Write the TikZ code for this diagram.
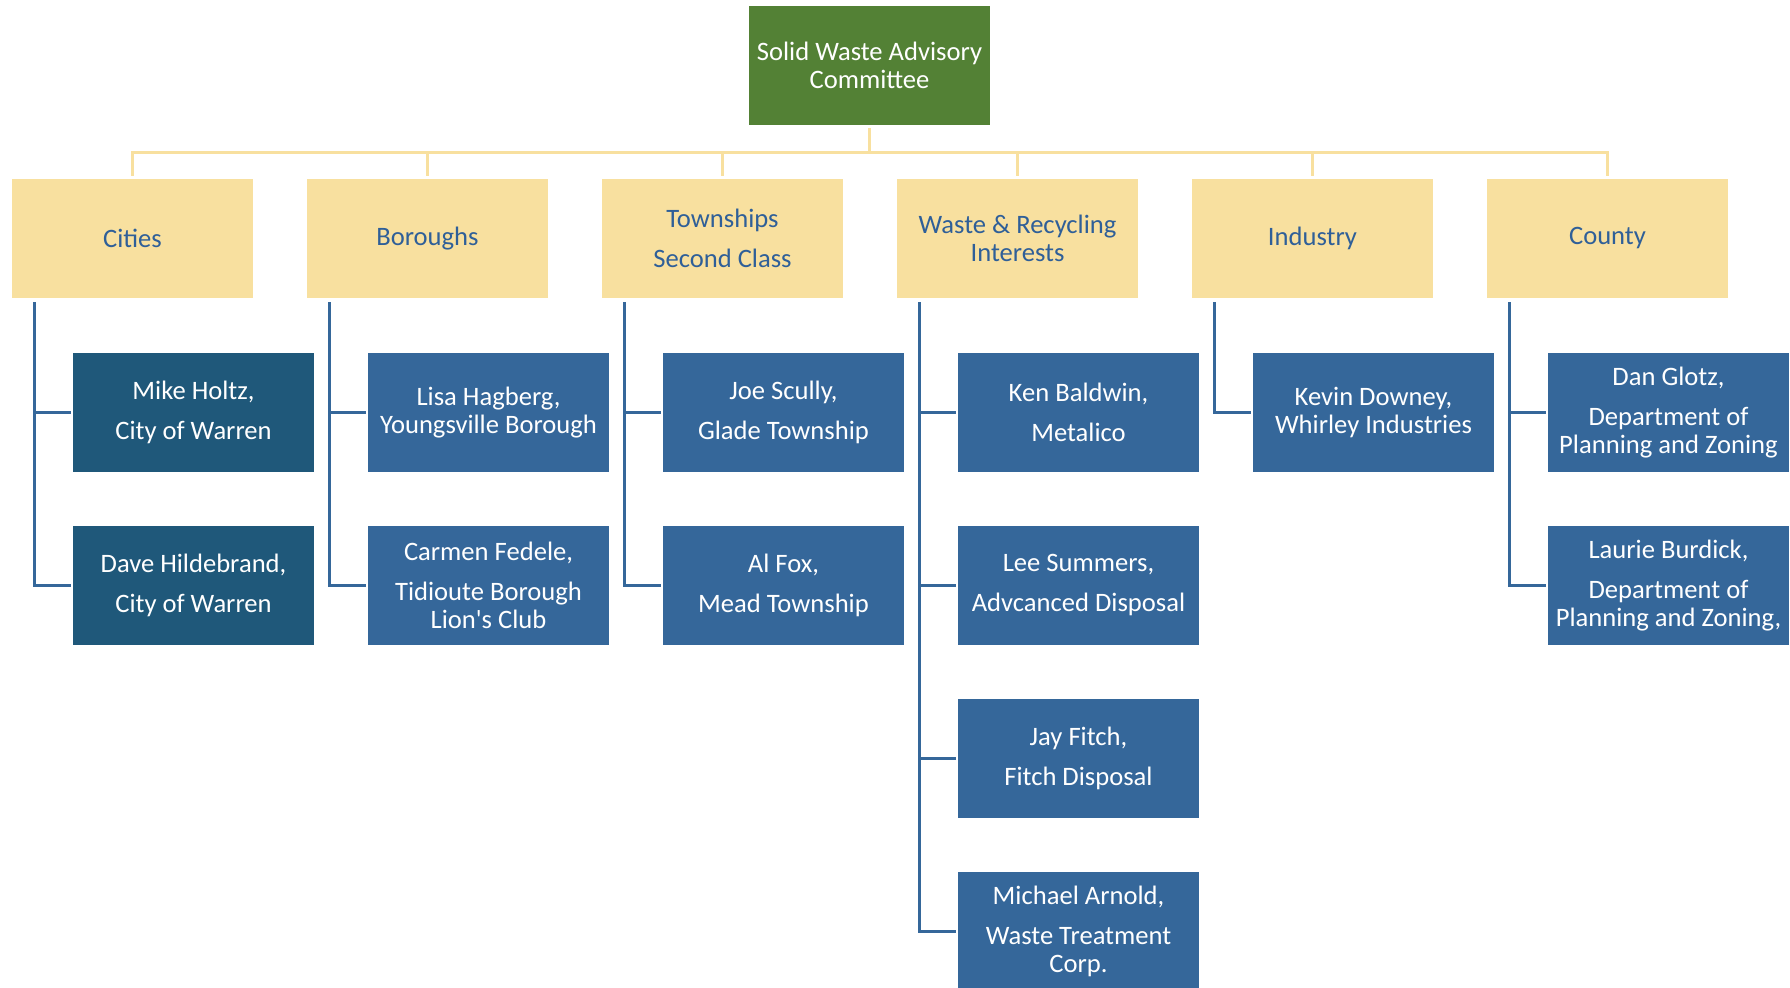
\documentclass[tikz,border=0pt]{standalone}
\usepackage{fontspec}
\setmainfont{Carlito}
\usepackage{tikz}
\definecolor{rootGreen}{HTML}{538135}
\definecolor{groupFill}{HTML}{F8E09F}
\definecolor{groupText}{HTML}{2F5F98}
\definecolor{memberBlue}{HTML}{35679A}
\definecolor{cityBlue}{HTML}{1F587A}

\begin{document}
\begin{tikzpicture}[x=0.5pt, y=-0.5pt,
    box/.style={rectangle, minimum width=120.5pt, minimum height=59.5pt, inner sep=0pt,
      align=center, font=\fontsize{13.3pt}{14.25pt}\selectfont},
    rootbox/.style={box, fill=rootGreen, text=white},
    groupbox/.style={box, fill=groupFill, text=groupText},
    memberbox/.style={box, fill=memberBlue, text=white},
    citybox/.style={box, fill=cityBlue, text=white},
    busline/.style={draw=groupFill, line width=1.3pt, shorten <=1.5pt, shorten >=1.5pt},
    memberline/.style={draw=memberBlue, line width=1.3pt, shorten >=1pt}]
      \useasboundingbox (0,0) rectangle (1790,988);
      % Committee
      \node[rootbox] (swac) at (869.5,65.5) {Solid Waste Advisory\\Committee};
      % Groups
      \node[groupbox] (cities) at (132.5,238.5) {Cities};
      \node[groupbox] (boroughs) at (427.5,238.5) {Boroughs};
      \node[groupbox] (townships) at (722.5,238.5) {Townships\\[5.75pt]Second Class};
      \node[groupbox] (waste) at (1017.5,238.5) {Waste \& Recycling\\Interests};
      \node[groupbox] (industry) at (1312.5,238.5) {Industry};
      \node[groupbox] (county) at (1607.5,238.5) {County};
      % Members: Cities
      \node[citybox] (holtz) at (193.5,412.5) {Mike Holtz,\\[5.75pt]City of Warren};
      \node[citybox] (hildebrand) at (193.5,585.5) {Dave Hildebrand,\\[5.75pt]City of Warren};
      % Members: Boroughs
      \node[memberbox] (hagberg) at (488.5,412.5) {Lisa Hagberg,\\Youngsville Borough};
      \node[memberbox] (fedele) at (488.5,585.5) {Carmen Fedele,\\[5.75pt]Tidioute Borough\\Lion\textquotesingle s Club};
      % Members: Townships
      \node[memberbox] (scully) at (783.5,412.5) {Joe Scully,\\[5.75pt]Glade Township};
      \node[memberbox] (fox) at (783.5,585.5) {Al Fox,\\[5.75pt]Mead Township};
      % Members: Waste & Recycling
      \node[memberbox] (baldwin) at (1078.5,412.5) {Ken Baldwin,\\[5.75pt]Metalico};
      \node[memberbox] (summers) at (1078.5,585.5) {Lee Summers,\\[5.75pt]Advcanced Disposal};
      \node[memberbox] (fitch) at (1078.5,758.5) {Jay Fitch,\\[5.75pt]Fitch Disposal};
      \node[memberbox] (arnold) at (1078.5,931.5) {Michael Arnold,\\[5.75pt]Waste Treatment\\Corp.};
      % Members: Industry
      \node[memberbox] (downey) at (1373.5,412.5) {Kevin Downey,\\Whirley Industries};
      % Members: County
      \node[memberbox] (glotz) at (1668.5,412.5) {Dan Glotz,\\[5.75pt]Department of\\Planning and Zoning};
      \node[memberbox] (burdick) at (1668.5,585.5) {Laurie Burdick,\\[5.75pt]Department of\\Planning and Zoning,};
      % Bus from committee to groups
      \draw[busline] (swac.south) -- ([yshift=-13.5pt]swac.south) -| (cities.north);
      \draw[busline] (swac.south) -- ([yshift=-13.5pt]swac.south) -| (boroughs.north);
      \draw[busline] (swac.south) -- ([yshift=-13.5pt]swac.south) -| (townships.north);
      \draw[busline] (swac.south) -- ([yshift=-13.5pt]swac.south) -| (waste.north);
      \draw[busline] (swac.south) -- ([yshift=-13.5pt]swac.south) -| (industry.north);
      \draw[busline] (swac.south) -- ([yshift=-13.5pt]swac.south) -| (county.north);
      % Elbows from groups to members
      \draw[memberline] ([xshift=11.5pt,yshift=-2pt]cities.south west) |- (holtz.west);
      \draw[memberline] ([xshift=11.5pt,yshift=-2pt]cities.south west) |- (hildebrand.west);
      \draw[memberline] ([xshift=11.5pt,yshift=-2pt]boroughs.south west) |- (hagberg.west);
      \draw[memberline] ([xshift=11.5pt,yshift=-2pt]boroughs.south west) |- (fedele.west);
      \draw[memberline] ([xshift=11.5pt,yshift=-2pt]townships.south west) |- (scully.west);
      \draw[memberline] ([xshift=11.5pt,yshift=-2pt]townships.south west) |- (fox.west);
      \draw[memberline] ([xshift=11.5pt,yshift=-2pt]waste.south west) |- (baldwin.west);
      \draw[memberline] ([xshift=11.5pt,yshift=-2pt]waste.south west) |- (summers.west);
      \draw[memberline] ([xshift=11.5pt,yshift=-2pt]waste.south west) |- (fitch.west);
      \draw[memberline] ([xshift=11.5pt,yshift=-2pt]waste.south west) |- (arnold.west);
      \draw[memberline] ([xshift=11.5pt,yshift=-2pt]industry.south west) |- (downey.west);
      \draw[memberline] ([xshift=11.5pt,yshift=-2pt]county.south west) |- (glotz.west);
      \draw[memberline] ([xshift=11.5pt,yshift=-2pt]county.south west) |- (burdick.west);
    \end{tikzpicture}
\end{document}
